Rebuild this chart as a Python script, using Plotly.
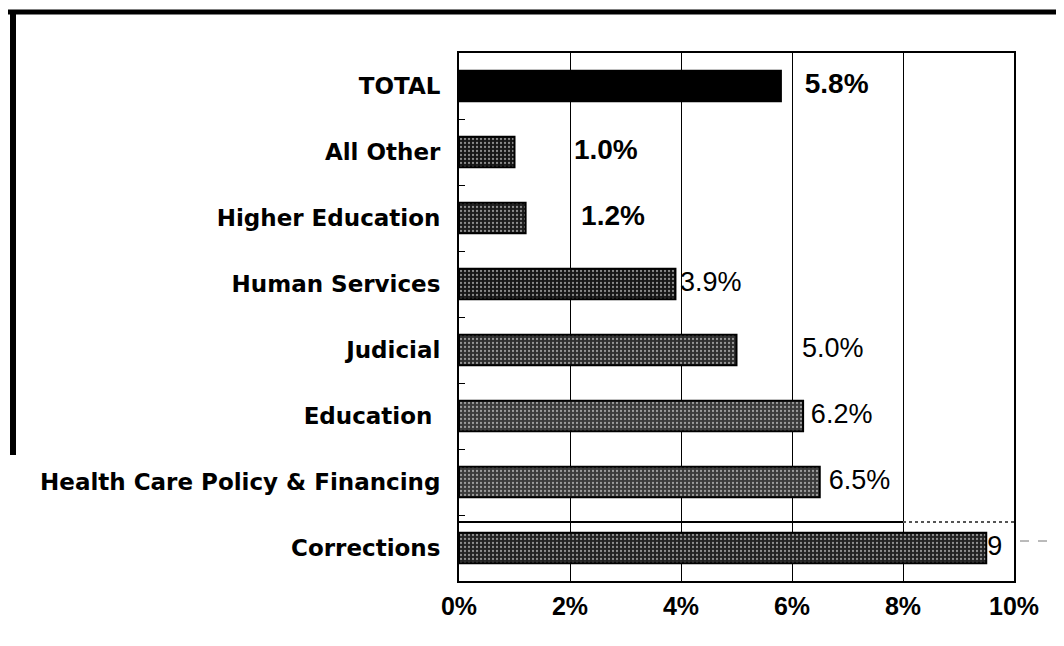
import plotly.graph_objects as go

# ----------------- DATA ----------------- #
categories = ['TOTAL', 'All Other', 'Higher Education', 'Human Services',
              'Judicial', 'Education ', 'Health Care Policy & Financing', 'Corrections']
values = [5.8, 1.0, 1.2, 3.9, 5.0, 6.2, 6.5, 9.5]
value_labels = ['5.8%', '1.0%', '1.2%', '3.9%', '5.0%', '6.2%', '6.5%', '9']

# ----------------- STYLE ----------------- #
bar_colors = ['#000000', '#161616', '#1c1c1c', '#161616', '#2e2e2e', '#3a3a3a', '#3a3a3a', '#222222']
speckle = ['', '.', '.', '.', '.', '.', '.', '.']
speckle_col = ['#000000', '#6a6a6a', '#6a6a6a', '#5a5a5a', '#8a8a8a', '#9a9a9a', '#9a9a9a', '#7a7a7a']
label_x = [6.23, 2.07, 2.2, 3.98, 6.18, 6.34, 6.66, 9.52]   # where the value labels sit
label_bold = [True, True, True, False, False, False, False, False]
FONT = 'Liberation Sans, Arial, sans-serif'
WIDE = 'DejaVu Sans, Verdana, sans-serif'

# page is 1064x646, but the html body has an 8px margin
OFF = 8
W, H = 1064 - OFF, 646 - OFF
L, R, T, B = 459, 1014, 53, 581   # plot box in page pixels


def px_x(p):
    return (p - L) / (R - L)


def px_y(p):
    return (B - p) / (B - T)


fig = go.Figure()
fig.add_trace(go.Bar(
    y=categories, x=values, orientation='h', width=0.46,
    marker=dict(color=bar_colors, line=dict(color='#000000', width=2),
                pattern=dict(shape=speckle, fgcolor=speckle_col, size=4, solidity=0.25)),
    showlegend=False, hoverinfo='skip'))

for i, cat in enumerate(categories):
    fig.add_trace(go.Scatter(
        y=[cat], x=[label_x[i]], mode='text', text=[value_labels[i]],
        textposition='middle right', cliponaxis=True, showlegend=False,
        textfont=dict(family=FONT, size=28 if label_bold[i] else 27, color='#000000',
                      weight='bold' if label_bold[i] else 'normal')))

fig.update_yaxes(autorange='reversed', categoryorder='array', categoryarray=categories,
                 tickfont=dict(family=WIDE, size=23, color='#000000', weight='bold'),
                 showline=True, linecolor='#000000', linewidth=2, mirror=True,
                 ticks='inside', tickson='boundaries', ticklen=6, tickcolor='#000000',
                 showgrid=False, ticklabelstandoff=12)
fig.update_xaxes(range=[0, 10], dtick=2, ticksuffix='%', tickformat='d',
                 tickfont=dict(family=FONT, size=25, color='#000000', weight='bold'),
                 showline=True, linecolor='#000000', linewidth=2, mirror=True,
                 showgrid=True, gridcolor='#000000', gridwidth=1, zeroline=False,
                 ticks='', ticklabelstandoff=2)

# page frame from the scan and the inner box edge
fig.add_shape(type='line', xref='paper', yref='paper',
              x0=px_x(8), x1=px_x(1064), y0=px_y(12), y1=px_y(12),
              line=dict(color='#000000', width=5))
fig.add_shape(type='line', xref='paper', yref='paper',
              x0=px_x(13), x1=px_x(13), y0=px_y(10), y1=px_y(455),
              line=dict(color='#000000', width=6))
fig.add_shape(type='line', xref='paper', yref='paper',
              x0=px_x(459), x1=px_x(903), y0=px_y(522), y1=px_y(522),
              line=dict(color='#000000', width=2))
fig.add_shape(type='line', xref='paper', yref='paper',
              x0=px_x(903), x1=px_x(1014), y0=px_y(522), y1=px_y(522),
              line=dict(color='#555555', width=2, dash='dot'))
fig.add_shape(type='line', xref='paper', yref='paper',
              x0=px_x(1020), x1=px_x(1056), y0=px_y(541), y1=px_y(541),
              line=dict(color='#777777', width=1, dash='dash'))

fig.update_layout(width=W, height=H, plot_bgcolor='white', paper_bgcolor='white',
                  margin=dict(l=L - OFF, r=W - (R - OFF), t=T - OFF, b=H - (B - OFF)),
                  font=dict(family=FONT, color='#000000'))

fig.write_html('out.html')
